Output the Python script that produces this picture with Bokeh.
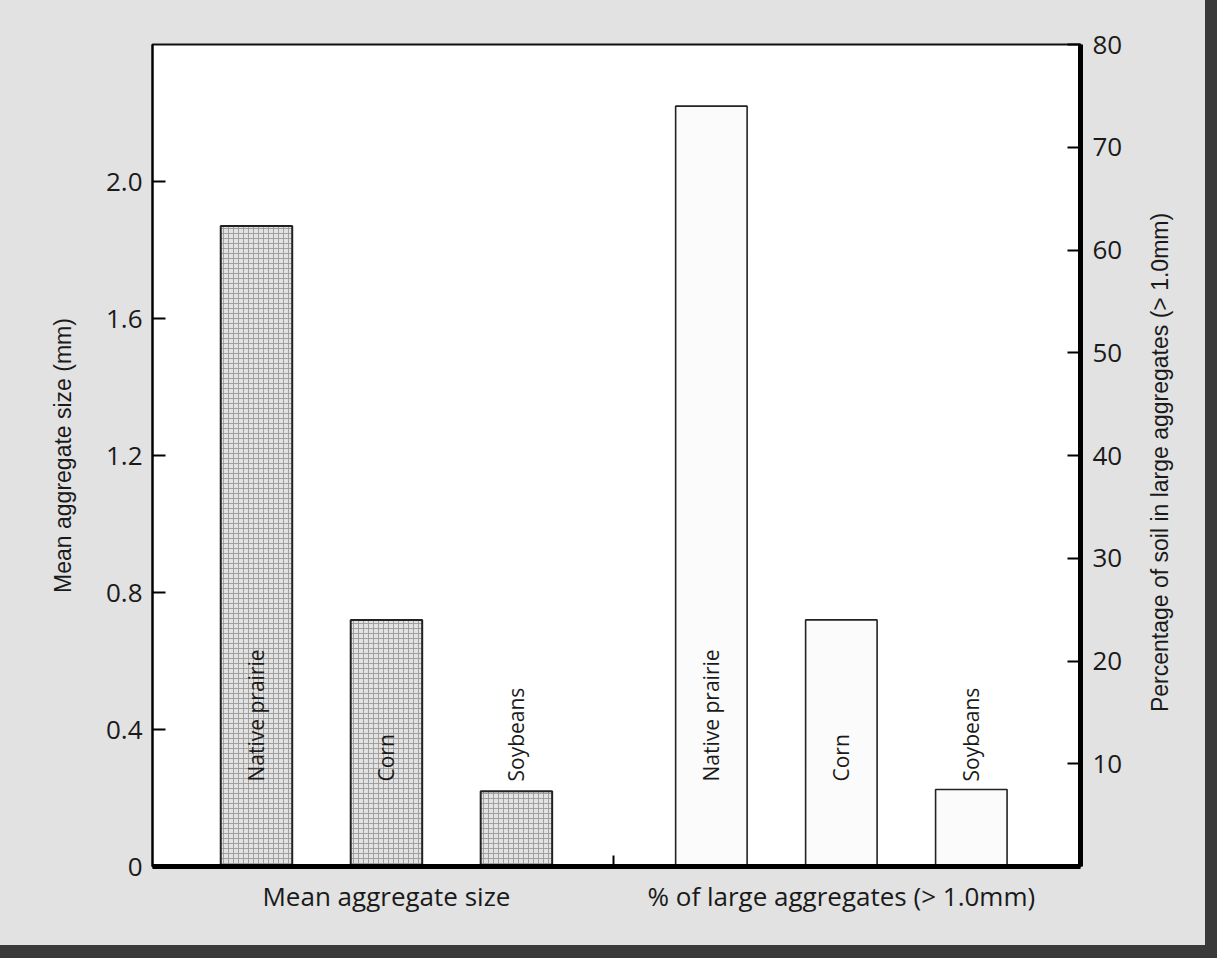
import math
from bokeh.plotting import figure
from bokeh.layouts import row
from bokeh.models import Range1d, LinearAxis, FixedTicker, PrintfTickFormatter
from bokeh.core.properties import value
from bokeh.embed import file_html
from bokeh.resources import INLINE

# ---- data ----
categories = ["Native prairie", "Corn", "Soybeans"]
groups = ["Mean aggregate size", "% of large aggregates (> 1.0mm)"]
mean_size_mm = [1.87, 0.72, 0.22]
pct_large = [74, 24, 7.5]
left_ticks = [0, 0.4, 0.8, 1.2, 1.6, 2.0]
right_ticks = [10, 20, 30, 40, 50, 60, 70, 80]
left_title = "Mean aggregate size (mm)"
right_title = "Percentage of soil in large aggregates (> 1.0mm)"

# ---- positions from category indices ----
GROUP_STEP = 3.5
n = len(categories)
x_left = [float(i) for i in range(n)]
x_right = [GROUP_STEP + i for i in range(n)]
group_centers = [sum(x_left) / n, sum(x_right) / n]
separator = (x_left[-1] + x_right[0]) / 2

TXT = "#1a1a1a"
PAGE = "#e2e2e2"

p = figure(width=1140, height=945, title=None,
           x_range=Range1d(-0.8, x_right[-1] + 0.84),
           y_range=Range1d(0, 2.4),
           output_backend="svg", toolbar_location=None,
           min_border_left=152, min_border_right=60,
           min_border_top=44, min_border_bottom=79)
p.extra_y_ranges = {"pct": Range1d(0, 80)}
p.grid.visible = False
p.background_fill_color = "white"
p.border_fill_color = PAGE
p.outline_line_color = "#111111"
p.outline_line_width = 2

# bars
p.vbar(x=x_left, top=mean_size_mm, bottom=0, width=0.55,
       fill_color="#e2e2e2", hatch_pattern="+", hatch_color="#9a9a9a",
       hatch_scale=5, hatch_weight=0.9,
       line_color="#222222", line_width=2)
p.vbar(x=x_right, top=pct_large, bottom=0, width=0.55, y_range_name="pct",
       fill_color="#fbfbfb", line_color="#222222", line_width=1.6)

# rotated labels
p.text(x=x_left + x_right, y=[0] * (2 * n), text=categories * 2,
       angle=math.pi / 2, text_align="left", text_baseline="middle",
       y_offset=-85, text_font=value("Open Sans"), text_font_size="21px",
       text_color=TXT)

# left axis
ya = p.yaxis[0]
ya.ticker = FixedTicker(ticks=left_ticks)
ya.formatter = PrintfTickFormatter(format="%.1f")
ya.major_label_overrides = {0: "0"}
ya.axis_label = left_title
ya.axis_label_text_font = "Liberation Sans"
ya.axis_label_text_font_size = "23px"
ya.axis_label_text_font_style = "normal"
ya.axis_label_text_color = TXT
ya.axis_label_standoff = 27
ya.major_label_text_font = "Open Sans"
ya.major_label_text_font_size = "26px"
ya.major_label_text_color = TXT
ya.major_label_standoff = 10
ya.major_tick_in = 13
ya.major_tick_out = 0
ya.major_tick_line_width = 2
ya.minor_tick_line_color = None
ya.axis_line_width = 2

# bottom axis
xa = p.xaxis[0]
xa.ticker = FixedTicker(ticks=group_centers, minor_ticks=[separator])
xa.major_label_overrides = dict(zip(group_centers, groups))
xa.major_tick_line_color = None
xa.minor_tick_in = 11
xa.minor_tick_out = 0
xa.minor_tick_line_width = 2
xa.axis_line_width = 5
xa.major_label_text_font = "Open Sans"
xa.major_label_text_font_size = "26px"
xa.major_label_text_color = TXT
xa.major_label_standoff = 5

# right axis (ticks and numbers)
ra = LinearAxis(y_range_name="pct", ticker=FixedTicker(ticks=right_ticks))
ra.major_label_text_font = "Open Sans"
ra.major_label_text_font_size = "26px"
ra.major_label_text_color = TXT
ra.major_label_standoff = 12
ra.major_tick_in = 13
ra.major_tick_out = 0
ra.major_tick_line_width = 2
ra.minor_tick_line_color = None
ra.axis_line_width = 5
p.add_layout(ra, "right")

# right axis title: a narrow companion panel so that the title reads bottom-to-top
q = figure(width=65, height=945, title=None,
           x_range=Range1d(0, 1), y_range=Range1d(0, 1),
           output_backend="svg", toolbar_location=None,
           min_border=0, min_border_left=0, min_border_right=0,
           min_border_top=0, min_border_bottom=0)
q.xaxis.visible = False
q.yaxis.visible = False
q.grid.visible = False
q.background_fill_color = PAGE
q.border_fill_color = PAGE
q.outline_line_color = None
q.text(x=[0], y=[0.5], text=[right_title], angle=math.pi / 2,
       x_offset=19, y_offset=7,
       text_align="center", text_baseline="middle",
       text_font=value("Liberation Sans"), text_font_size="23px",
       text_color=TXT)

layout = row(p, q, spacing=0, styles={"background-color": PAGE})
html = file_html(layout, INLINE)
html = html.replace("</head>",
                    "<style>html, body { margin: 0 !important; background: #3a3a3a !important; }</style></head>", 1)
open("out.html", "w").write(html)
